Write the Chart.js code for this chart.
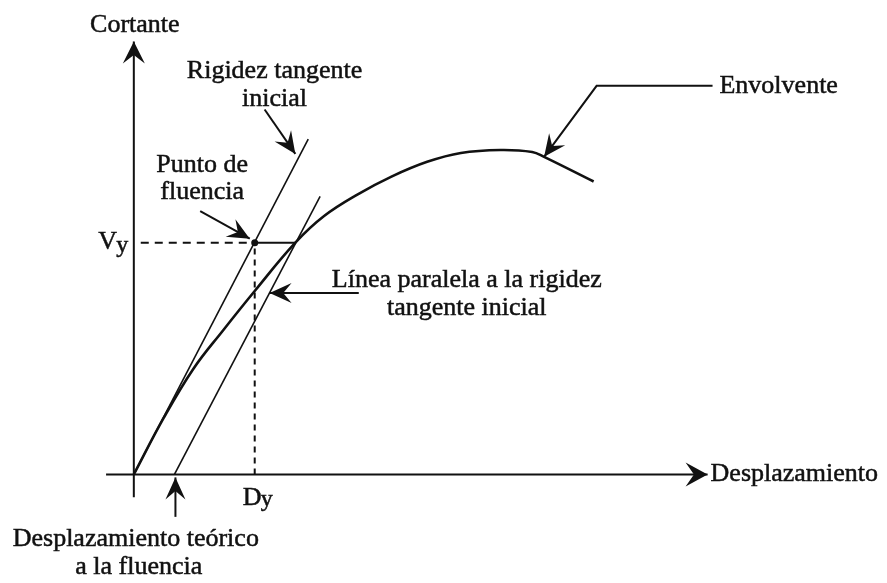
<!DOCTYPE html>
<html lang="es">
<head>
<meta charset="utf-8">
<title>Envolvente cortante - desplazamiento</title>
<script src="https://cdn.jsdelivr.net/npm/chart.js@4.4.1/dist/chart.umd.min.js"></script>
<style>
  html, body { margin: 0; padding: 0; background: #fff; }
  #wrap { width: 887px; height: 583px; }
</style>
</head>
<body>
<div id="wrap"><canvas id="curva"></canvas></div>
<script>
// Valores (desplazamiento, cortante), unidades arbitrarias
const envolventeX = [0, 3.0, 6.0, 9.0, 12.2, 16.3, 19.2, 22.6, 26.0, 29.6, 33.0, 37.0, 40.2, 41.4, 46.4];
const envolventeY = [0, 5.7, 10.7, 14.6, 18.6, 23.5, 26.2, 28.4, 30.2, 31.7, 32.6, 32.9, 32.7, 32.2, 29.7];

const rigidezX = [0, 17.6];      // rigidez tangente inicial
const rigidezY = [0, 34.0];
const paralelaX = [4.1, 18.8];   // línea paralela
const paralelaY = [0, 28.2];

const Vy = 23.5;   // cortante de fluencia
const Dy = 12.2;   // desplazamiento de fluencia
const corteVy = 16.3; // donde la horizontal Vy toca la envolvente

// extremos de los ejes
const ejeX = [-2.8, 57.9];
const ejeY = [-2.3, 43.9];

const toPts = (xs, ys) => xs.map((x, i) => ({ x: x, y: ys[i] }));

// flechas de las notas: [desde ..., punta]
const flechas = [
  [[13.2, 37.0], [16.3, 32.5]],                 // Rigidez tangente inicial
  [[6.7, 26.7], [11.7, 23.9]],                  // Punto de fluencia
  [[58.4, 39.4], [46.7, 39.4], [41.4, 32.2]],   // Envolvente
  [[22.7, 18.4], [13.7, 18.4]],                 // Línea paralela
  [[4.2, -4.3], [4.2, -0.3]]                    // Desplazamiento teórico
];

// textos: [texto, x, y, alineación]
const textos = [
  ['Cortante', 0.1, 45.6, 'center'],
  ['Rigidez tangente', 14.2, 40.9, 'center'],
  ['inicial', 14.2, 38.1, 'center'],
  ['Punto de', 6.9, 31.4, 'center'],
  ['fluencia', 6.9, 28.6, 'center'],
  ['Envolvente', 59.1, 39.4, 'left'],
  ['Línea paralela a la rigidez', 33.6, 19.7, 'center'],
  ['tangente inicial', 33.6, 16.9, 'center'],
  ['Desplazamiento', 58.2, 0, 'left'],
  ['Desplazamiento teórico', 0.2, -6.6, 'center'],
  ['a la fluencia', 0.5, -9.4, 'center']
];

const FUENTE = '"Liberation Serif", "Times New Roman", serif';

function punta(ctx, x0, y0, x1, y1, largo, ancho) {
  const a = Math.atan2(y1 - y0, x1 - x0);
  const c = Math.cos(a), s = Math.sin(a);
  const bx = x1 - c * largo, by = y1 - s * largo;
  const nx = x1 - c * largo * 0.62, ny = y1 - s * largo * 0.62;
  ctx.beginPath();
  ctx.moveTo(x1, y1);
  ctx.lineTo(bx - s * ancho, by + c * ancho);
  ctx.lineTo(nx, ny);
  ctx.lineTo(bx + s * ancho, by - c * ancho);
  ctx.closePath();
  ctx.fill();
}

function texto(ctx, t, x, y) {
  ctx.fillText(t, x, y);
  ctx.strokeText(t, x, y); // trazo fino: imita el grosor del escaneo
}

const notas = {
  id: 'notas',
  afterDatasetsDraw(chart) {
    const ctx = chart.ctx;
    const sx = chart.scales.x, sy = chart.scales.y;
    const px = v => sx.getPixelForValue(v);
    const py = v => sy.getPixelForValue(v);
    ctx.save();
    ctx.strokeStyle = '#111';
    ctx.fillStyle = '#111';

    // puntas de los ejes
    punta(ctx, px(0), py(0), px(ejeX[1]), py(0), 22, 12);
    punta(ctx, px(0), py(0), px(0), py(ejeY[1]), 22, 11);

    // flechas de las notas
    ctx.lineWidth = 2;
    flechas.forEach(f => {
      ctx.beginPath();
      f.forEach((p, i) => i ? ctx.lineTo(px(p[0]), py(p[1])) : ctx.moveTo(px(p[0]), py(p[1])));
      ctx.stroke();
      const a = f[f.length - 2], b = f[f.length - 1];
      punta(ctx, px(a[0]), py(a[1]), px(b[0]), py(b[1]), 22, 10);
    });

    // textos
    ctx.lineWidth = 0.5;
    ctx.font = '26px ' + FUENTE;
    ctx.textBaseline = 'middle';
    textos.forEach(t => {
      ctx.textAlign = t[3];
      texto(ctx, t[0], px(t[1]), py(t[2]));
    });

    // Vy y Dy con subíndice
    ctx.textAlign = 'left';
    texto(ctx, 'V', px(-3.6), py(Vy + 0.1));
    ctx.font = '24px ' + FUENTE;
    texto(ctx, 'y', px(-3.6) + 18, py(Vy) + 3);
    ctx.font = '26px ' + FUENTE;
    texto(ctx, 'D', px(Dy) - 12, py(-2.4));
    ctx.font = '24px ' + FUENTE;
    texto(ctx, 'y', px(Dy) + 6, py(-2.4) + 2);
    ctx.restore();
  }
};

const linea = (data, ancho, extra) => Object.assign({
  data: data,
  showLine: true,
  borderColor: '#111',
  backgroundColor: '#111',
  borderWidth: ancho,
  pointRadius: 0,
  fill: false
}, extra || {});

new Chart(document.getElementById('curva'), {
  type: 'scatter',
  data: {
    datasets: [
      linea([{ x: ejeX[0], y: 0 }, { x: ejeX[1], y: 0 }], 2),
      linea([{ x: 0, y: ejeY[0] }, { x: 0, y: ejeY[1] }], 2),
      linea(toPts(envolventeX, envolventeY), 2.6, { tension: 0.4 }),
      linea(toPts(rigidezX, rigidezY), 1.6),
      linea(toPts(paralelaX, paralelaY), 1.6),
      linea([{ x: 0.7, y: Vy }, { x: Dy, y: Vy }], 2, { borderDash: [8, 6] }),
      linea([{ x: Dy, y: Vy }, { x: corteVy, y: Vy }], 2),
      linea([{ x: Dy, y: 0 }, { x: Dy, y: Vy }], 2, { borderDash: [6, 5] }),
      linea([{ x: Dy, y: Vy }], 0, { showLine: false, pointRadius: 3.5, pointStyle: 'circle' })
    ]
  },
  options: {
    responsive: true,
    maintainAspectRatio: false,
    animation: false,
    layout: { padding: 0 },
    plugins: { legend: { display: false }, tooltip: { enabled: false } },
    scales: {
      x: { type: 'linear', min: -13.1, max: 75.6, display: false },
      y: { type: 'linear', min: -10.6, max: 47.7, display: false }
    }
  },
  plugins: [notas]
});
</script>
</body>
</html>
